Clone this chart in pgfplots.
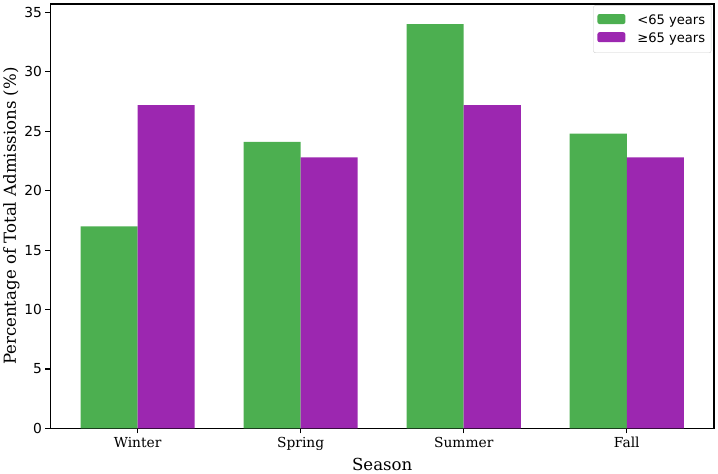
\documentclass[border=0pt]{standalone}
\usepackage{fontspec}
\setmainfont{DejaVu Serif}
\newfontfamily\sansf{DejaVu Sans}
\usepackage{pgfplots}
\pgfplotsset{compat=1.18}
\definecolor{cgreen}{HTML}{4CAF50}
\definecolor{cpurple}{HTML}{9C27B0}
\begin{document}
\begin{tikzpicture}[x=1bp,y=1bp]
\path (0,0) rectangle (718,473);
\begin{axis}[
  at={(48bp,43bp)}, anchor=south west,
  scale only axis, width=666bp, height=426bp,
  xmin=-0.535, xmax=3.535, ymin=0, ymax=35.7,
  xtick={0,1,2,3}, xticklabels={Winter,Spring,Summer,Fall},
  ytick={0,5,10,15,20,25,30,35},
  xtick pos=left, ytick pos=left,
  tick align=outside, major tick length=4.9bp,
  tick style={black, line width=1.1bp},
  axis line style={line width=1.1bp},
  minor tick num=0,
  /pgf/number format/assume math mode=true,
  yticklabel style={font=\sansf\fontsize{13.9}{16}\selectfont},
  xticklabel style={font=\fontsize{13.9}{16}\selectfont},
  xlabel={Season}, ylabel={Percentage of Total Admissions (\%)},
  label style={font=\fontsize{16.7}{19}\selectfont},
  xlabel style={yshift=-1bp},
  ylabel style={yshift=-2bp},
  legend style={at={(0.996,0.997)}, anchor=north east, draw=black!20, rounded corners=2bp,
    font=\sansf\fontsize{13.2}{16}\selectfont, row sep=3bp, column sep=10bp, inner xsep=4bp, inner ysep=7bp},
  legend cell align=left,
  legend image code/.code={\fill[#1] (0bp,-4bp) rectangle (28bp,6bp);},
]
\addplot[ybar, bar width=0.35, bar shift=-0.175, fill=cgreen, draw=none] coordinates {(0,17.0) (1,24.1) (2,34.0) (3,24.8)};
\addplot[ybar, bar width=0.35, bar shift=0.175, fill=cpurple, draw=none] coordinates {(0,27.2) (1,22.8) (2,27.2) (3,22.8)};
\legend{<65 years, ≥65 years}
\end{axis}
\end{tikzpicture}
\end{document}
